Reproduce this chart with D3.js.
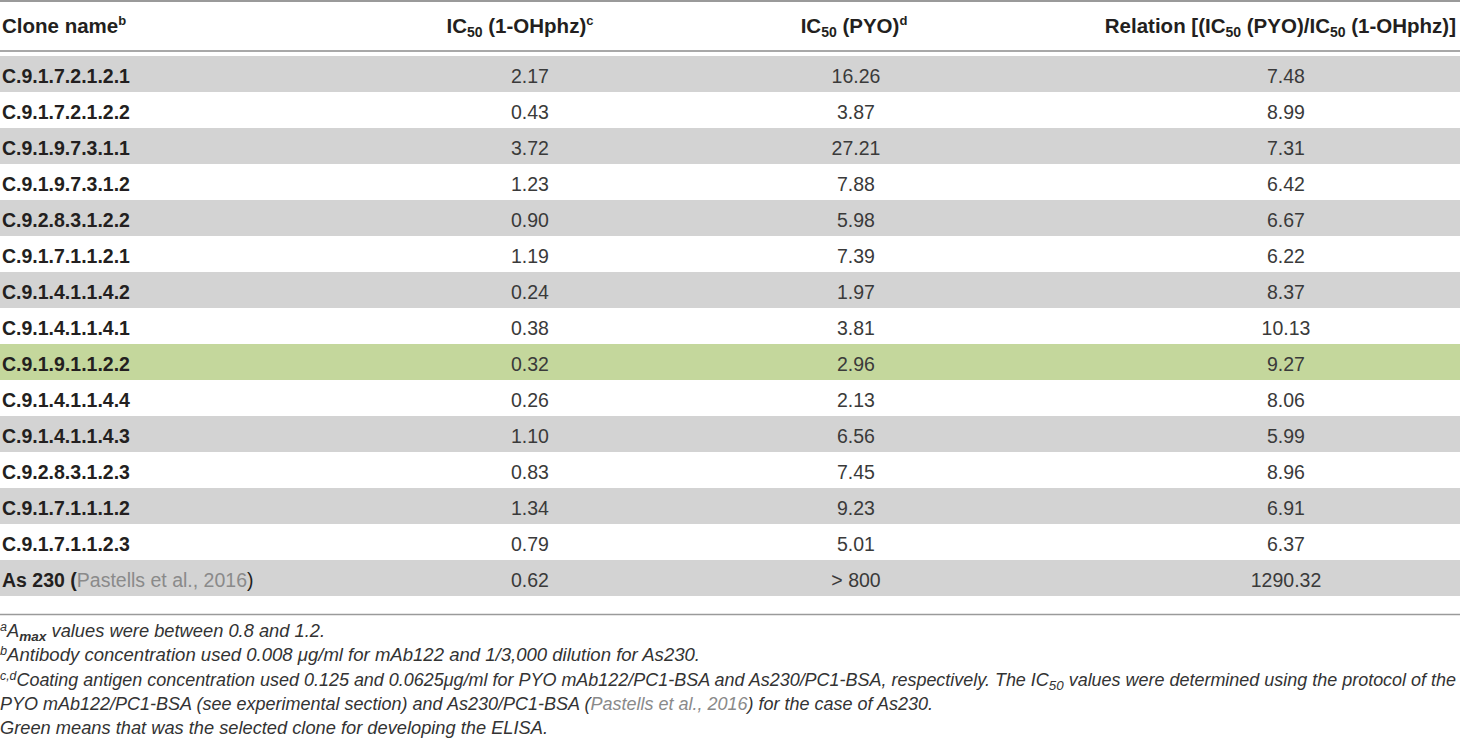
<!DOCTYPE html>
<html>
<head>
<meta charset="utf-8">
<script src="https://cdn.jsdelivr.net/npm/d3@7"></script>
<style>
  body { margin: 0; background: #fff; }
  svg text { font-family: "Liberation Sans", Arial, Helvetica, sans-serif; }
</style>
</head>
<body>
<div id="tableChart"></div>
<script>
// table values
var clones = ["C.9.1.7.2.1.2.1", "C.9.1.7.2.1.2.2", "C.9.1.9.7.3.1.1", "C.9.1.9.7.3.1.2",
              "C.9.2.8.3.1.2.2", "C.9.1.7.1.1.2.1", "C.9.1.4.1.1.4.2", "C.9.1.4.1.1.4.1",
              "C.9.1.9.1.1.2.2", "C.9.1.4.1.1.4.4", "C.9.1.4.1.1.4.3", "C.9.2.8.3.1.2.3",
              "C.9.1.7.1.1.1.2", "C.9.1.7.1.1.2.3", "As 230"];
var ic50OHphz = [2.17, 0.43, 3.72, 1.23, 0.90, 1.19, 0.24, 0.38, 0.32, 0.26, 1.10, 0.83, 1.34, 0.79, 0.62];
var ic50PYO   = [16.26, 3.87, 27.21, 7.88, 5.98, 7.39, 1.97, 3.81, 2.96, 2.13, 6.56, 7.45, 9.23, 5.01, "> 800"];
var relation  = [7.48, 8.99, 7.31, 6.42, 6.67, 6.22, 8.37, 10.13, 9.27, 8.06, 5.99, 8.96, 6.91, 6.37, 1290.32];
var selectedClone = "C.9.1.9.1.1.2.2";
var columns = ["name", "oh", "pyo", "rel"];

var width = 1460, height = 749;
var fmt = d3.format(".2f");

var svg = d3.select("#tableChart")
  .append("svg")
  .attr("width", width)
  .attr("height", height);

// scales
var y = d3.scaleBand().domain(clones).range([56, 596]);
var x = d3.scaleOrdinal().domain(columns).range([2, 530, 856, 1286]);

var rows = clones.map(function(c, i) {
  return { name: c, oh: fmt(ic50OHphz[i]),
           pyo: (typeof ic50PYO[i] === "number") ? fmt(ic50PYO[i]) : ic50PYO[i],
           rel: fmt(relation[i]), i: i };
});

// row backgrounds
svg.selectAll(".rowBg")
  .data(rows)
  .enter().append("rect")
  .attr("class", "rowBg")
  .attr("x", 0)
  .attr("y", function(d) { return y(d.name); })
  .attr("width", width)
  .attr("height", y.bandwidth())
  .attr("fill", function(d) {
    if (d.name == selectedClone) return "#c4d79c";
    return d.i % 2 == 0 ? "#d3d3d3" : "#ffffff";
  });

// rules
svg.append("line").attr("x1", 0).attr("x2", width).attr("y1", 1).attr("y2", 1)
  .style("stroke", "#9a9a9a").style("stroke-width", "2px");
svg.append("line").attr("x1", 0).attr("x2", width).attr("y1", 51).attr("y2", 51)
  .style("stroke", "#a8a8a8").style("stroke-width", "2px");
svg.append("line").attr("x1", 0).attr("x2", width).attr("y1", 614.5).attr("y2", 614.5)
  .style("stroke", "#9a9a9a").style("stroke-width", "1.5px");

// header
var headY = 33, headSize = "20.5px";
var h1 = svg.append("text").attr("x", x("name")).attr("y", headY)
  .style("font-size", headSize).style("font-weight", "bold").attr("fill", "#231f20");
h1.append("tspan").text("Clone name");
h1.append("tspan").attr("dy", -8).style("font-size", "13px").text("b");

function ic50(t) {
  t.append("tspan").text("IC");
  t.append("tspan").attr("dy", 4).style("font-size", "14px").text("50");
  t.append("tspan").attr("dy", -4).text(" ");
}
var h2 = svg.append("text").attr("x", x("oh") - 10).attr("y", headY).attr("text-anchor", "middle")
  .style("font-size", headSize).style("font-weight", "bold").attr("fill", "#231f20");
ic50(h2);
h2.append("tspan").text("(1-OHphz)");
h2.append("tspan").attr("dy", -8).style("font-size", "13px").text("c");

var h3 = svg.append("text").attr("x", x("pyo") - 2).attr("y", headY).attr("text-anchor", "middle")
  .style("font-size", headSize).style("font-weight", "bold").attr("fill", "#231f20");
ic50(h3);
h3.append("tspan").text("(PYO)");
h3.append("tspan").attr("dy", -8).style("font-size", "13px").text("d");

// last header is flush with the right edge
var h4 = svg.append("text").attr("x", width - 4).attr("y", headY).attr("text-anchor", "end")
  .style("font-size", headSize).style("font-weight", "bold").attr("fill", "#231f20");
h4.append("tspan").text("Relation [(");
ic50(h4);
h4.append("tspan").text("(PYO)/");
ic50(h4);
h4.append("tspan").text("(1-OHphz)]");

// body cells
var base = 27, bodySize = "19.5px";
svg.selectAll(".nameCell")
  .data(rows)
  .enter().append("text")
  .attr("class", "nameCell")
  .attr("x", x("name"))
  .attr("y", function(d) { return y(d.name) + base; })
  .style("font-size", bodySize).style("font-weight", "bold").attr("fill", "#231f20")
  .each(function(d) {
    var t = d3.select(this);
    if (d.name == "As 230") {
      t.append("tspan").text("As 230 (");
      t.append("tspan").style("font-weight", "normal").attr("fill", "#8a8a8a").text("Pastells et al., 2016");
      t.append("tspan").style("font-weight", "normal").text(")");
    } else {
      t.text(d.name);
    }
  });

["oh", "pyo", "rel"].forEach(function(col) {
  svg.selectAll(".cell-" + col)
    .data(rows)
    .enter().append("text")
    .attr("class", "cell-" + col)
    .attr("x", x(col))
    .attr("y", function(d) { return y(d.name) + base; })
    .attr("text-anchor", "middle")
    .style("font-size", bodySize).attr("fill", "#3a3a3a")
    .text(function(d) { return d[col]; });
});

// footnotes
var fs = "17.5px";
function note(yPos, len) {
  var t = svg.append("text").attr("x", 0).attr("y", yPos)
    .style("font-size", fs).style("font-style", "italic").attr("fill", "#333");
  if (len) t.attr("textLength", len).attr("lengthAdjust", "spacingAndGlyphs");
  return t;
}
function sup(t, s) { t.append("tspan").attr("dy", -6).style("font-size", "12px").text(s); }
function back(t, s) { t.append("tspan").attr("dy", 6).text(s); }

var n1 = note(637, 325);
sup(n1, "a");
back(n1, "A");
n1.append("tspan").attr("dy", 4).style("font-size", "13px").style("font-weight", "bold").text("max");
n1.append("tspan").attr("dy", -4).text(" values were between 0.8 and 1.2.");

var n2 = note(661, 700);
sup(n2, "b");
back(n2, "Antibody concentration used 0.008 μg/ml for mAb122 and 1/3,000 dilution for As230.");

var n3 = note(686, 1456);
sup(n3, "c,d");
back(n3, "Coating antigen concentration used 0.125 and 0.0625μg/ml for PYO mAb122/PC1-BSA and As230/PC1-BSA, respectively. The IC");
n3.append("tspan").attr("dy", 4).style("font-size", "13px").text("50");
n3.append("tspan").attr("dy", -4).text(" values were determined using the protocol of the");

var n4 = note(710, 933);
n4.append("tspan").text("PYO mAb122/PC1-BSA (see experimental section) and As230/PC1-BSA (");
n4.append("tspan").attr("fill", "#8a8a8a").text("Pastells et al., 2016");
n4.append("tspan").text(") for the case of As230.");

var n5 = note(734, 548);
n5.text("Green means that was the selected clone for developing the ELISA.");
</script>
</body>
</html>
